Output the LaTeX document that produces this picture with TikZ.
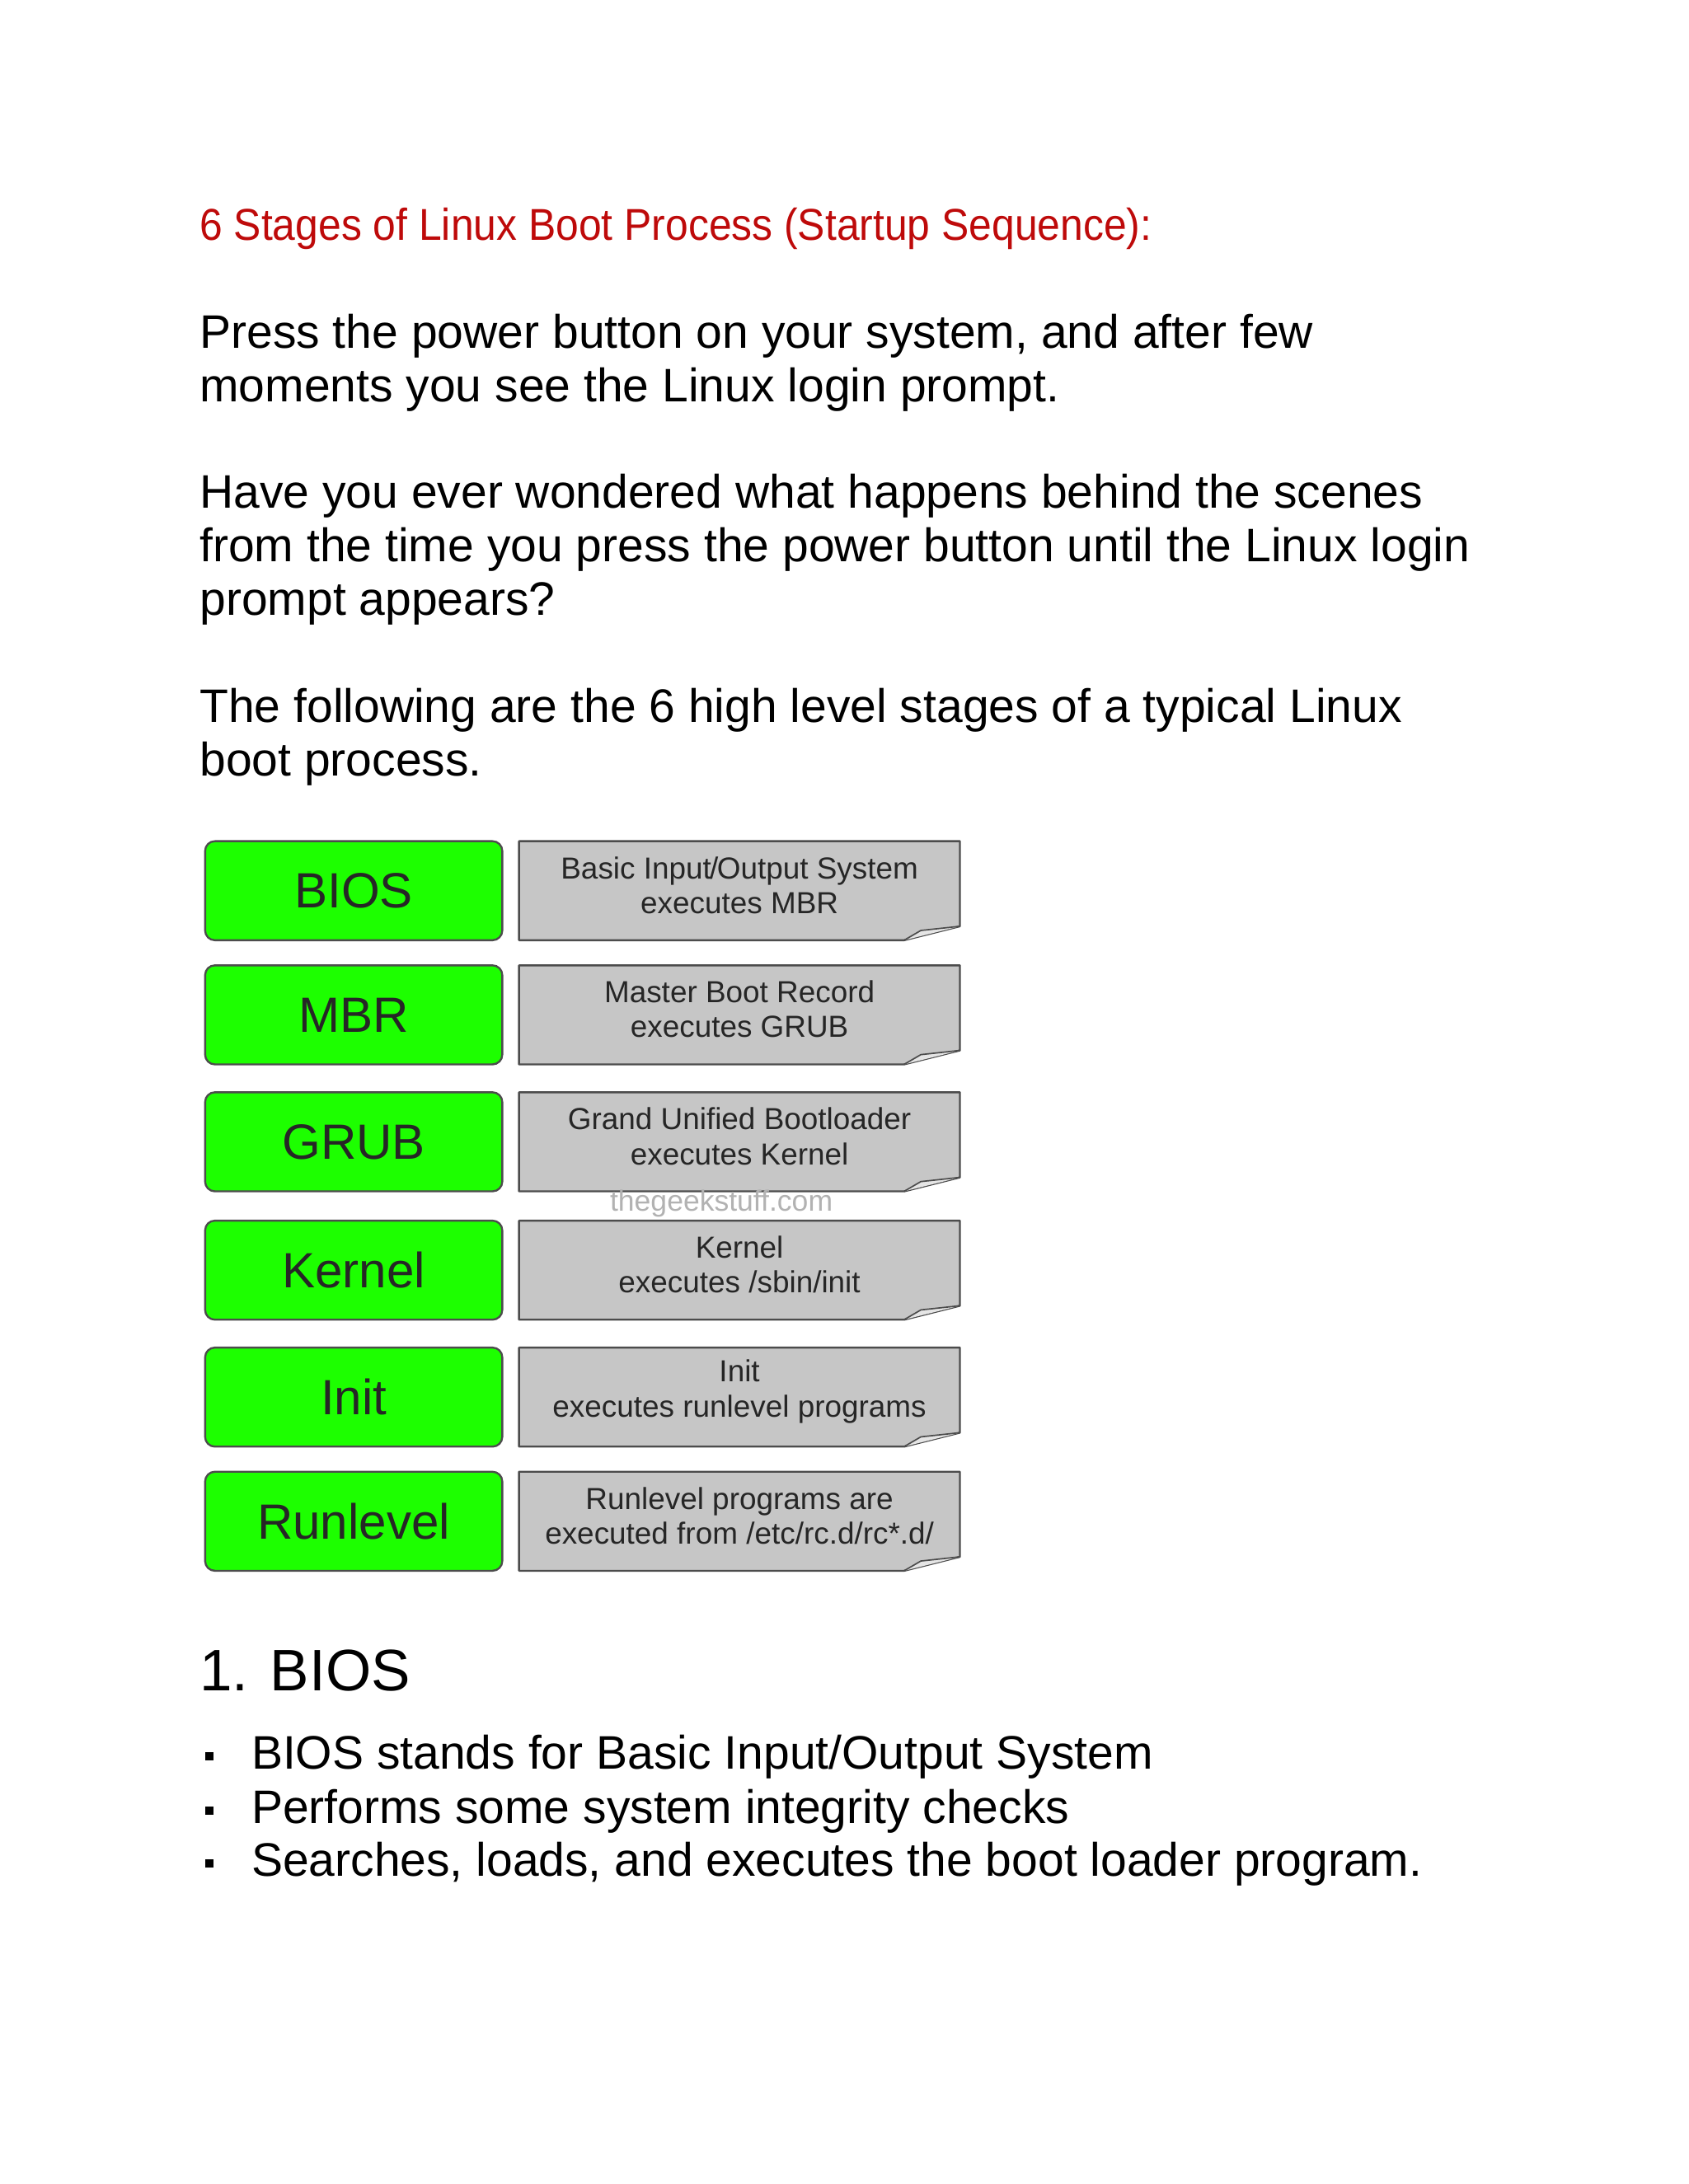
\documentclass[tikz,border=0pt]{standalone}
\usepackage{fontspec}
\setmainfont{Liberation Sans}
\begin{document}
\begin{tikzpicture}[x=1pt,y=-1pt,
  para/.style={anchor=base west,inner sep=0,font=\fontsize{33.7}{38.3}\selectfont,align=left},
  stage/.style={draw=black!70,line width=1.4pt,fill=green!85!lime,rounded corners=7pt,minimum width=213pt,minimum height=71pt,inner sep=0,font=\fontsize{35.5}{35.5}\selectfont,text=black!85},
  note/.style={fill=gray!45,draw=none,minimum width=316pt,minimum height=71pt,inner sep=0,font=\fontsize{21.8}{25}\selectfont,align=center,text=black!85}]
\useasboundingbox (0,0) rectangle (1210,1565.6);
\fill[white] (0,0) rectangle (1210,1565.6);
\node[anchor=base west,inner sep=0,text={rgb,255:red,190;green,10;blue,10}] (title) at (143,172)
  {\scalebox{0.92}[1]{\fontsize{32}{32}\selectfont 6 Stages of Linux Boot Process (Startup Sequence):}};
\node[para] (p1) at (143,288) {Press the power button on your system, and after few\\moments you see the Linux login prompt.};
\node[para] (p2) at (143,441) {Have you ever wondered what happens behind the scenes\\from the time you press the power button until the Linux login\\prompt appears?};
\node[para] (p3) at (143,556) {The following are the 6 high level stages of a typical Linux\\boot process.};
\foreach \y/\n/\a/\b [count=\i] in {638.5/BIOS/{Basic Input\kern-1pt/\kern-1ptOutput System}/executes MBR,
  727.5/MBR/Master Boot Record/executes GRUB,
  818.5/GRUB/Grand Unified Bootloader/executes Kernel,
  910.5/Kernel/Kernel/{executes /sbin/init},
  1001.5/Init/Init/executes runlevel programs,
  1090.5/Runlevel/Runlevel programs are/{executed from /etc/rc.d/rc*.d/}}{
  \node[stage] (s\i) at (253.5,\y) {\n};
  \fill[gray!45] (372,\y-35.5) -- (688,\y-35.5) -- (688,\y+25.5) -- (648,\y+35.5) -- (372,\y+35.5) -- cycle;
  \draw[black!70,line width=1.4pt,line join=round] (372,\y-35.5) -- (688,\y-35.5) -- (688,\y+25.5) -- (648,\y+35.5) -- (372,\y+35.5) -- cycle;
  \fill[gray!20] (648,\y+35.5) -- (660,\y+28.5) -- (688,\y+25.5) -- cycle;
  \draw[black!70,line width=1pt] (648,\y+35.5) -- (660,\y+28.5) -- (688,\y+25.5);
  \node[note,fill=none] (n\i) at (530,\y-4) {\a\\\b};
}
\node[inner sep=0,text=gray!60,font=\fontsize{21}{21}\selectfont] (wm) at (517,863) {thegeekstuff.com};
\node[anchor=base west,inner sep=0,font=\fontsize{42}{42}\selectfont] (h1) at (143,1212) {1. BIOS};
\foreach \y/\t [count=\i] in {1268/{BIOS stands for Basic Input/Output System},1307/{Performs some system integrity checks},1345/{Searches, loads, and executes the boot loader program.}}{
  \fill (147,\y-12) rectangle (153,\y-6);
  \node[para] (b\i) at (180,\y) {\t};
}
\end{tikzpicture}
\end{document}
